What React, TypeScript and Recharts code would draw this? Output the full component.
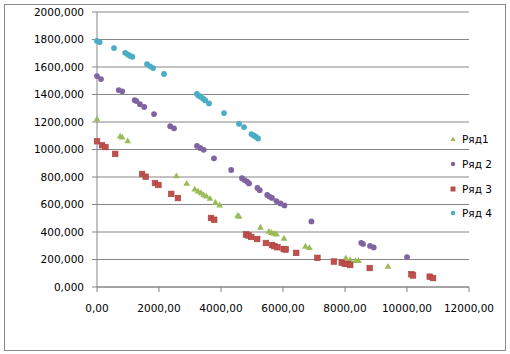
import React from "react";
import {
  ScatterChart,
  Scatter,
  XAxis,
  YAxis,
  CartesianGrid,
  Legend,
} from "recharts";

// Ряд1 (triangles)
const ryad1X = [0, 748, 813, 990, 2561, 2894, 3152, 3258, 3355, 3442, 3529, 3645, 3820, 3958, 4539, 4581, 5271, 5546, 5629, 5717, 5787, 6033, 6723, 6852, 8023, 8168, 8339, 8436, 9388];
const ryad1Y = [1224, 1099, 1091, 1064, 809, 755, 713, 699, 687, 671, 662, 646, 618, 598, 522, 516, 436, 406, 398, 391, 387, 356, 298, 288, 211, 201, 193, 193, 151];

// Ряд 2
const ryad2X = [0, 129, 700, 813, 1216, 1271, 1384, 1523, 1839, 2361, 2484, 3226, 3329, 3442, 3774, 4329, 4678, 4758, 4845, 4904, 5175, 5249, 5491, 5565, 5646, 5788, 5917, 6046, 6917, 8523, 8581, 8807, 8926, 10001];
const ryad2Y = [1534, 1512, 1432, 1423, 1359, 1352, 1329, 1309, 1258, 1169, 1154, 1026, 1011, 998, 936, 851, 791, 778, 766, 753, 720, 704, 670, 658, 648, 625, 608, 593, 477, 321, 313, 299, 288, 218];

// Ряд 3 (squares)
const ryad3X = [0, 161, 271, 587, 1455, 1571, 1871, 1981, 2394, 2610, 3678, 3781, 4807, 4884, 4974, 5168, 5449, 5646, 5723, 5820, 6023, 6088, 6426, 7110, 7642, 7894, 8000, 8088, 8168, 8797, 10143, 10194, 10733, 10839];
const ryad3Y = [1060, 1031, 1018, 968, 822, 802, 756, 742, 677, 647, 502, 489, 382, 375, 364, 349, 320, 305, 297, 289, 276, 273, 248, 212, 185, 177, 168, 168, 160, 138, 93, 84, 75, 65];

// Ряд 4
const ryad4X = [0, 87, 548, 910, 1006, 1087, 1142, 1613, 1716, 1807, 2161, 3223, 3281, 3355, 3426, 3491, 3613, 4097, 4581, 4742, 4981, 5055, 5120, 5194];
const ryad4Y = [1790, 1781, 1738, 1703, 1689, 1679, 1674, 1621, 1605, 1592, 1549, 1404, 1391, 1381, 1369, 1357, 1335, 1265, 1187, 1163, 1112, 1102, 1093, 1080];

const xTicks = [0, 2000, 4000, 6000, 8000, 10000, 12000];
const yTicks = [0, 200, 400, 600, 800, 1000, 1200, 1400, 1600, 1800, 2000];

const zip = (xs: number[], ys: number[]) => xs.map((x, i) => ({ x, y: ys[i] }));

const series = [
  { name: "Ряд1", data: zip(ryad1X, ryad1Y), color: "#9BBB59", shape: "triangle" },
  { name: "Ряд 2", data: zip(ryad2X, ryad2Y), color: "#8064A2", shape: "circle" },
  { name: "Ряд 3", data: zip(ryad3X, ryad3Y), color: "#C0504D", shape: "square" },
  { name: "Ряд 4", data: zip(ryad4X, ryad4Y), color: "#4BACC6", shape: "circle" },
];

const Marker = ({ cx, cy, kind, color, s = 1 }: any) => {
  if (kind === "triangle") {
    return (
      <path
        d={`M${cx},${cy - 3.2 * s} L${cx + 3.4 * s},${cy + 2.6 * s} L${cx - 3.4 * s},${cy + 2.6 * s} Z`}
        fill={color}
      />
    );
  }
  if (kind === "square") {
    return (
      <rect
        x={cx - 2.8 * s}
        y={cy - 2.8 * s}
        width={5.6 * s}
        height={5.6 * s}
        fill={color}
        stroke="#a8403d"
        strokeWidth={0.6}
      />
    );
  }
  return <circle cx={cx} cy={cy} r={2.9 * s} fill={color} />;
};

const LegendBox = () => (
  <div style={{ fontFamily: "DejaVu Sans", fontSize: 10.5, color: "#000" }}>
    {series.map((s) => (
      <div key={s.name} style={{ display: "flex", alignItems: "center", height: 24.7 }}>
        <svg width={10} height={10} style={{ marginRight: 4 }}>
          <Marker cx={5} cy={5} kind={s.shape} color={s.color} s={0.75} />
        </svg>
        <span>{s.name}</span>
      </div>
    ))}
  </div>
);

export default function App() {
  const tickStyle = { fontFamily: "DejaVu Sans", fontSize: 10.5, fill: "#000" };
  return (
    <div style={{ position: "absolute", left: 0, top: 0, width: 510, height: 354, background: "#fff" }}>
      <div
        style={{
          position: "absolute",
          left: 4,
          top: 4,
          width: 500,
          height: 345,
          border: "1px solid #8a8a8a",
        }}
      />
      <ScatterChart width={510} height={354} margin={{ top: 12, right: 41, bottom: 37, left: 0 }}>
        <CartesianGrid vertical={false} stroke="#868686" />
        <XAxis
          type="number"
          dataKey="x"
          domain={[0, 12000]}
          ticks={xTicks}
          height={30}
          stroke="#868686"
          tickSize={5}
          tickMargin={13}
          tick={tickStyle}
          tickFormatter={(v: number) => v.toFixed(2).replace(".", ",")}
        />
        <YAxis
          type="number"
          dataKey="y"
          domain={[0, 2000]}
          ticks={yTicks}
          width={97}
          stroke="#868686"
          tickSize={5}
          tickMargin={8}
          tick={tickStyle}
          tickFormatter={(v: number) => v.toFixed(3).replace(".", ",")}
        />
        <Legend
          layout="vertical"
          align="center"
          verticalAlign="middle"
          content={() => <LegendBox />}
          wrapperStyle={{ left: 448, top: 127, width: 60 }}
        />
        {series.map((s) => (
          <Scatter
            key={s.name}
            name={s.name}
            data={s.data}
            fill={s.color}
            isAnimationActive={false}
            shape={(p: any) => <Marker cx={p.cx} cy={p.cy} kind={s.shape} color={s.color} />}
          />
        ))}
      </ScatterChart>
    </div>
  );
}
